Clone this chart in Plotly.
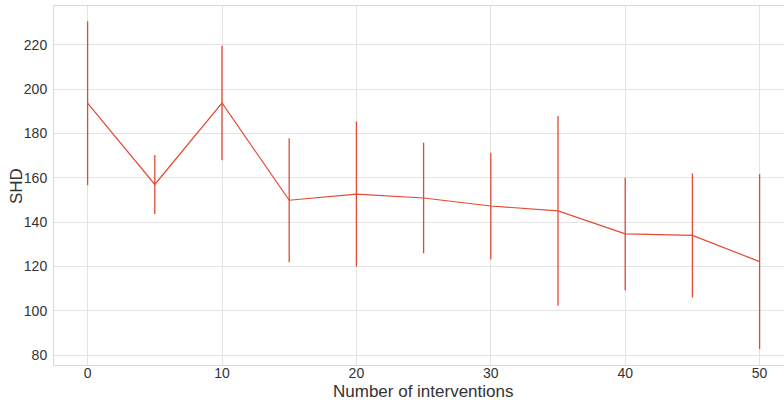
import plotly.graph_objects as go

interventions = [0, 5, 10, 15, 20, 25, 30, 35, 40, 45, 50]
shd_mean = [193.7, 157.0, 193.8, 149.9, 152.7, 150.9, 147.3, 145.1, 134.7, 134.0, 122.2]
shd_std = [37.0, 13.3, 25.8, 28.0, 32.7, 25.0, 24.0, 42.8, 25.4, 28.0, 39.5]

line_color = "#e24a33"
grid_color = "#e3e3e3"
font_family = "Liberation Sans, Arial, sans-serif"

W, H = 784, 400
L, T, B = 54, 6, 35
PW, PH = W - L, H - T - B
PX_PER_UNIT = 13.44
x_right = -2.5 + PW / PX_PER_UNIT

fig = go.Figure()
fig.add_trace(go.Scatter(
    x=interventions,
    y=shd_mean,
    mode="lines",
    line=dict(color=line_color, width=1.2),
    error_y=dict(type="data", array=shd_std, symmetric=True,
                 color=line_color, thickness=1.3, width=0),
    showlegend=False,
))

fig.update_layout(
    width=W, height=H,
    margin=dict(l=L, r=0, t=T, b=B, pad=0),
    paper_bgcolor="white", plot_bgcolor="white",
    font=dict(family=font_family, color="#333333", size=14),
    xaxis=dict(
        range=[-2.5, x_right],
        tickvals=[0, 10, 20, 30, 40, 50],
        showgrid=True, gridcolor=grid_color, gridwidth=1,
        zeroline=False, automargin=False,
        showline=True, linecolor="#d9d9d9", linewidth=1, mirror=True,
        ticks="", ticklabelstandoff=-5,
        tickfont=dict(size=14, color="#333333"),
    ),
    yaxis=dict(
        range=[75.5, 237.6],
        tickvals=[80, 100, 120, 140, 160, 180, 200, 220],
        showgrid=True, gridcolor=grid_color, gridwidth=1,
        zeroline=False, automargin=False,
        showline=True, linecolor="#d9d9d9", linewidth=1, mirror=False,
        ticks="", ticklabelstandoff=3,
        tickfont=dict(size=14, color="#333333"),
    ),
    annotations=[
        dict(text="Number of interventions", xref="paper", yref="paper",
             x=(423 - L) / PW, y=-(391 - (T + PH)) / PH, xanchor="center", yanchor="middle",
             showarrow=False, font=dict(size=17, color="#333333")),
        dict(text="SHD", xref="paper", yref="paper",
             x=-(L - 16) / PW, y=((T + PH) - 186) / PH, xanchor="center", yanchor="middle",
             textangle=-90, showarrow=False, font=dict(size=17, color="#333333")),
    ],
)

fig.write_html(
    "out.html",
    config={"displayModeBar": False},
    post_script="document.body.style.margin='0';document.body.style.overflow='hidden';",
)
